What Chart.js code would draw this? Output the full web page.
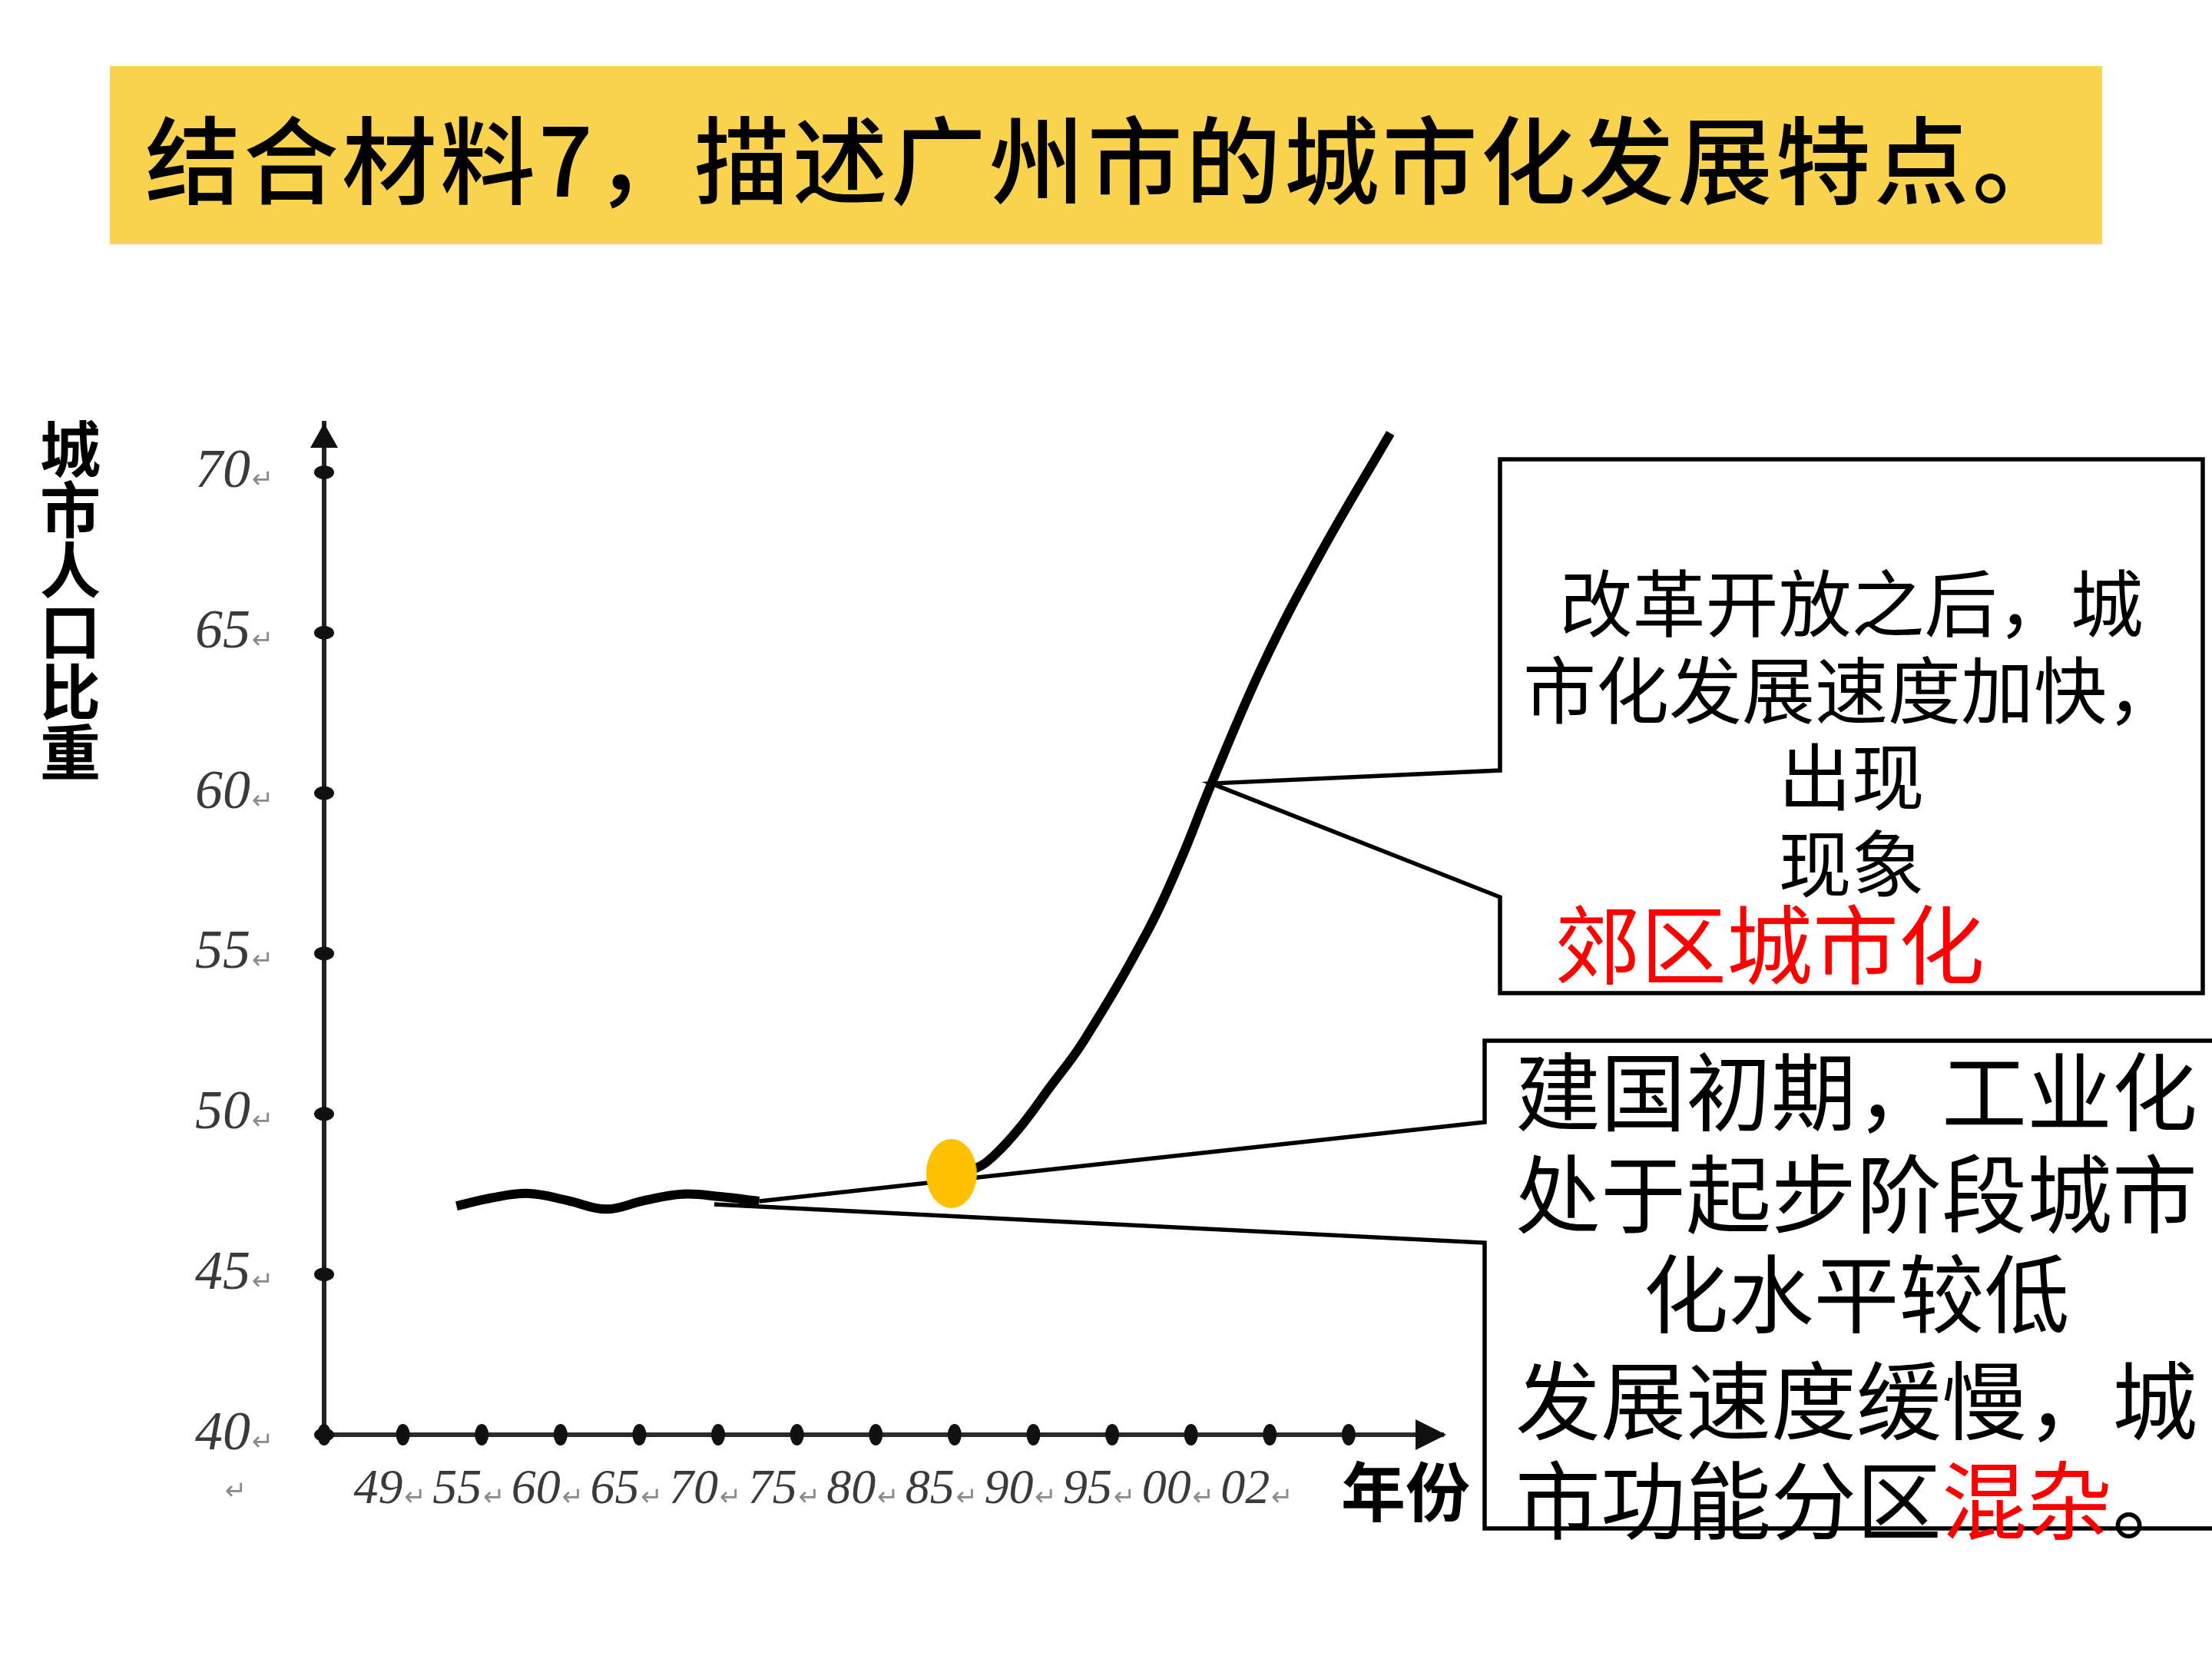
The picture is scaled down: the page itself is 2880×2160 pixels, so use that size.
<!DOCTYPE html>
<html lang="zh-CN">
<head>
    <meta charset="UTF-8">
    <title>广州市城市化发展特点</title>
    <style>
        html, body {
            margin: 0;
            padding: 0;
            background: #fff;
        }

        #slide {
            position: relative;
            width: 2880px;
            height: 2160px;
            overflow: hidden;
            background: #fff;
            font-family: "Noto Sans CJK SC", sans-serif;
            color: #000;
        }

        #chartBox {
            position: absolute;
            left: 0;
            top: 0;
            width: 2880px;
            height: 2160px;
        }

        .banner {
            position: absolute;
            left: 143px;
            top: 86px;
            width: 2594px;
            height: 232px;
            background: #F9D24E;
            box-sizing: border-box;
            padding-left: 46px;
            font-size: 124px;
            font-weight: 500;
            line-height: 232px;
            letter-spacing: 4px;
            white-space: nowrap;
        }

        .ytitle {
            position: absolute;
            left: 52px;
            top: 545px;
            writing-mode: vertical-rl;
            font-size: 79px;
            font-weight: 700;
            line-height: 1;
        }

        .xtitle {
            position: absolute;
            left: 1746px;
            top: 1896px;
            font-size: 84px;
            font-weight: 700;
            line-height: 1;
            white-space: nowrap;
        }

        .stray {
            position: absolute;
            left: 293px;
            top: 1920px;
            font-family: "DejaVu Sans", sans-serif;
            font-size: 34px;
            color: #8a8a8a;
        }

        .note {
            position: absolute;
            text-align: center;
            white-space: nowrap;
        }

        .note-top {
            left: 1953px;
            width: 915px;
            font-size: 95px;
            line-height: 113px;
        }

        .note-red {
            position: absolute;
            left: 2024px;
            top: 1168px;
            font-size: 112px;
            line-height: 112px;
            color: #FF0000;
            white-space: nowrap;
        }

        .note-low {
            left: 1933px;
            width: 968px;
            font-size: 111px;
            line-height: 133px;
        }

        .red { color: #FF0000; }
    </style>
</head>
<body>
<div id="slide">
    <div id="chartBox"><canvas id="cityChart"></canvas></div>

    <div class="banner">结合材料7，描述广州市的城市化发展特点。</div>
    <div class="ytitle">城市人口比重</div>
    <div class="xtitle">年份</div>
    <div class="stray">↵</div>

    <div class="note note-top" style="top:724px">改革开放之后，城</div>
    <div class="note note-top" style="top:837px">市化发展速度加快，</div>
    <div class="note note-top" style="top:950px">出现</div>
    <div class="note note-top" style="top:1063px">现象</div>
    <div class="note-red">郊区城市化</div>
    <div class="note note-low" style="top:1349px">建国初期，工业化</div>
    <div class="note note-low" style="top:1482px">处于起步阶段城市</div>
    <div class="note note-low" style="top:1612px">化水平较低</div>
    <div class="note note-low" style="top:1751px">发展速度缓慢，城</div>
    <div class="note note-low" style="top:1881px">市功能分区<span class="red">混杂</span>。</div>
</div>

<script src="https://cdn.jsdelivr.net/npm/chart.js"></script>
<script>
    // x axis: slot index along the year axis (0 = origin, 1..12 = labelled years)
    const yearLabels = ['49', '55', '60', '65', '70', '75', '80', '85', '90', '95', '00', '02'];
    const yTicks = [40, 45, 50, 55, 60, 65, 70];

    // slow, wavy stage (1949 - late 1970s)
    const waveX = [1.68, 2.12, 2.60, 3.09, 3.58, 4.06, 4.55, 5.03, 5.52];
    const waveY = [47.13, 47.38, 47.52, 47.30, 47.03, 47.30, 47.50, 47.42, 47.28];

    // fast rise after reform and opening up
    const riseX = [7.96, 8.27, 8.50, 8.83, 9.20, 9.64, 10.45, 10.86, 11.26, 11.91, 12.63, 13.53];
    const riseY = [48.14, 48.31, 48.70, 49.58, 50.80, 52.28, 55.70, 57.86, 60.30, 63.99, 67.41, 71.22];

    // turning point (yellow mark)
    const markX = [7.96];
    const markY = [48.14];

    // where the callout pointers touch the curve
    const anchorX = [11.26, 5.52, 4.95];
    const anchorY = [60.30, 47.28, 47.18];

    const toPoints = (xs, ys) => xs.map((v, i) => ({ x: v, y: ys[i] }));

    // yellow ellipse used as point style
    const markImg = document.createElement('canvas');
    markImg.width = 66;
    markImg.height = 90;
    const mctx = markImg.getContext('2d');
    mctx.fillStyle = '#FDC100';
    mctx.beginPath();
    mctx.ellipse(33, 45, 33, 45, 0, 0, Math.PI * 2);
    mctx.fill();

    // dots on the axes, arrow heads and the little return marks
    const axisDecor = {
        id: 'axisDecor',
        afterDraw(chart) {
            const { ctx, chartArea: a, scales: { x, y } } = chart;
            ctx.save();
            ctx.fillStyle = '#111';
            y.ticks.forEach(t => {
                const py = y.getPixelForValue(t.value);
                ctx.beginPath();
                ctx.ellipse(a.left, py, 13, 9, 0, 0, Math.PI * 2);
                ctx.fill();
            });
            x.ticks.forEach(t => {
                const px = x.getPixelForValue(t.value);
                ctx.beginPath();
                ctx.ellipse(px, a.bottom, 9, 14, 0, 0, Math.PI * 2);
                ctx.fill();
            });
            // arrows
            ctx.beginPath();
            ctx.moveTo(a.left, a.top);
            ctx.lineTo(a.left - 18, a.top + 32);
            ctx.lineTo(a.left + 18, a.top + 32);
            ctx.closePath();
            ctx.fill();
            ctx.beginPath();
            ctx.moveTo(a.right + 4, a.bottom);
            ctx.lineTo(a.right - 36, a.bottom - 20);
            ctx.lineTo(a.right - 36, a.bottom + 20);
            ctx.closePath();
            ctx.fill();

            ctx.fillStyle = '#8a8a8a';
            ctx.font = '34px "DejaVu Sans"';
            ctx.textAlign = 'left';
            ctx.textBaseline = 'alphabetic';
            y.ticks.forEach(t => {
                ctx.fillText('↵', a.left - 94, y.getPixelForValue(t.value) + 20);
            });
            x.ticks.forEach(t => {
                if (t.value >= 1 && t.value <= yearLabels.length) {
                    ctx.fillText('↵', x.getPixelForValue(t.value) + 2, a.bottom + 92);
                }
            });
            ctx.restore();
        }
    };

    // callout frames with their pointers
    const callouts = {
        id: 'callouts',
        beforeDatasetsDraw(chart) {
            const { ctx, scales: { x, y } } = chart;
            const px = i => x.getPixelForValue(anchorX[i]);
            const py = i => y.getPixelForValue(anchorY[i]);
            ctx.save();
            ctx.strokeStyle = '#000';
            ctx.lineWidth = 5.5;
            ctx.lineJoin = 'miter';

            ctx.beginPath();
            ctx.moveTo(1953, 1003);
            ctx.lineTo(1953, 598);
            ctx.lineTo(2868, 598);
            ctx.lineTo(2868, 1293);
            ctx.lineTo(1953, 1293);
            ctx.lineTo(1953, 1168);
            ctx.lineTo(px(0), py(0));
            ctx.closePath();
            ctx.stroke();

            ctx.beginPath();
            ctx.moveTo(px(1), py(1));
            ctx.lineTo(1933, 1461);
            ctx.lineTo(1933, 1355);
            ctx.lineTo(2900, 1355);
            ctx.lineTo(2900, 1990);
            ctx.lineTo(1933, 1990);
            ctx.lineTo(1933, 1618);
            ctx.lineTo(px(2), py(2));
            ctx.stroke();
            ctx.restore();
        }
    };

    const ctx = document.getElementById('cityChart').getContext('2d');
    new Chart(ctx, {
        type: 'line',
        data: {
            datasets: [
                {
                    type: 'scatter',
                    label: '转折点',
                    data: toPoints(markX, markY),
                    pointStyle: markImg,
                    pointRadius: 45,
                    clip: false
                },
                {
                    label: '城市人口比重',
                    data: toPoints(riseX, riseY),
                    borderColor: '#000',
                    borderWidth: 12,
                    borderCapStyle: 'butt',
                    pointRadius: 0,
                    tension: 0.4,
                    fill: false,
                    clip: false
                },
                {
                    label: '城市人口比重',
                    data: toPoints(waveX, waveY),
                    borderColor: '#000',
                    borderWidth: 12,
                    pointRadius: 0,
                    tension: 0.4,
                    fill: false,
                    clip: false
                }
            ]
        },
        options: {
            responsive: true,
            maintainAspectRatio: false,
            animation: false,
            layout: {
                padding: { left: 0, top: 551, right: 1001, bottom: 0 }
            },
            plugins: {
                legend: { display: false },
                tooltip: { enabled: false }
            },
            scales: {
                x: {
                    type: 'linear',
                    min: 0,
                    max: 14.2,
                    grid: { display: false, drawTicks: false },
                    border: { display: true, color: '#2b2b2b', width: 6 },
                    afterBuildTicks: scale => {
                        scale.ticks = Array.from({ length: yearLabels.length + 2 }, (_, i) => ({ value: i }));
                    },
                    afterFit: scale => { scale.height = 292; },
                    ticks: {
                        autoSkip: false,
                        maxRotation: 0,
                        align: 'end',
                        padding: 34,
                        color: '#3a3a3a',
                        font: { family: '"Liberation Serif", serif', size: 64, style: 'italic' },
                        callback: v => (v >= 1 && v <= yearLabels.length) ? yearLabels[v - 1] : ''
                    }
                },
                y: {
                    type: 'linear',
                    min: 40,
                    max: 71.53,
                    grid: { display: false, drawTicks: false },
                    border: { display: true, color: '#222', width: 6 },
                    afterBuildTicks: scale => {
                        scale.ticks = yTicks.map(v => ({ value: v }));
                    },
                    afterFit: scale => { scale.width = 422; },
                    ticks: {
                        padding: 96,
                        color: '#3a3a3a',
                        font: { family: '"Liberation Serif", serif', size: 72, style: 'italic' }
                    }
                }
            }
        },
        plugins: [callouts, axisDecor]
    });
</script>
</body>
</html>
